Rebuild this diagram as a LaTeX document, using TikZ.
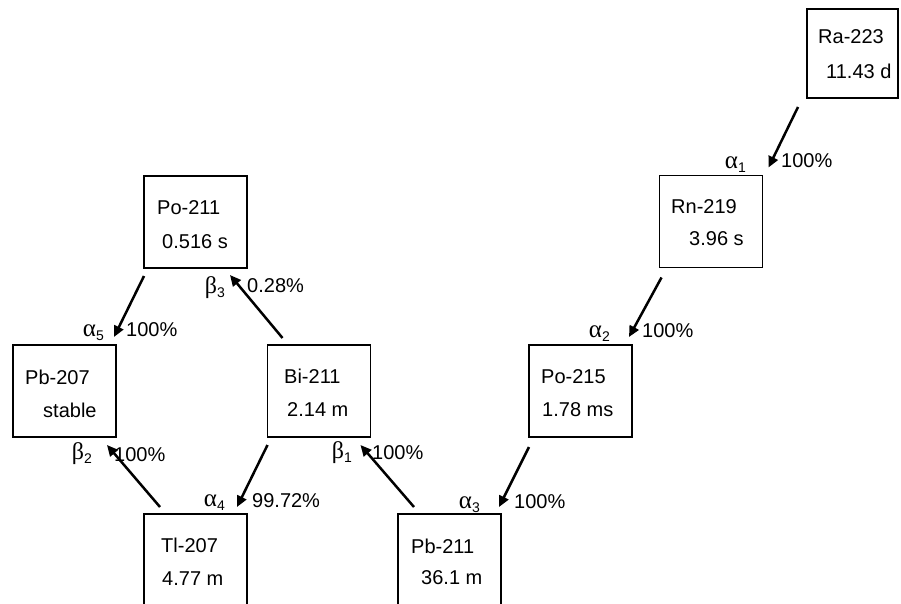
\documentclass[tikz,border=0pt]{standalone}
\usepackage{fontspec}
\setmainfont{Liberation Sans}
\newfontfamily\grk{Liberation Serif}
\usetikzlibrary{arrows.meta}
\tikzset{
  box/.style={draw, line width=1.4pt, minimum width=103pt, minimum height=92pt, inner sep=0pt, outer sep=0pt},
  txt/.style={inner sep=0pt, anchor=west, font=\fontsize{20}{24}\selectfont},
  pct/.style={inner sep=0pt, anchor=west, font=\fontsize{20}{24}\selectfont},
  gl/.style={inner sep=0pt, anchor=east, font=\fontsize{20}{24}\selectfont},
  arr/.style={line width=2.5pt, -{Triangle[length=11pt,width=10pt]}}
}
\newcommand{\gsub}[1]{\raisebox{-4pt}{\fontsize{14}{16}\selectfont #1}}
\newcommand{\al}[1]{{\grk\fontsize{25}{28}\selectfont α}\gsub{#1}}
\newcommand{\be}[1]{{\grk\fontsize{24}{28}\selectfont β}\gsub{#1}}
\begin{document}
\begin{tikzpicture}[x=1pt,y=-1pt]
\useasboundingbox (0,0) rectangle (901,604);
% boxes
\node[box, minimum width=91pt, minimum height=89pt] (ra) at (852.5,53.5) {};
\node[box] (rn) at (711,221.5) {};
\node[box] (po211) at (195.5,222) {};
\node[box] (pb207) at (64.5,391) {};
\node[box] (bi211) at (319,391) {};
\node[box] (po215) at (580.5,391) {};
\node[box] (tl207) at (195.5,560) {};
\node[box] (pb211) at (449.5,560) {};
% texts
\node[txt] (ra1) at (818,37) {Ra-223};
\node[txt] (ra2) at (826,71) {11.43 d};
\node[txt] (rn1) at (671,207) {Rn-219};
\node[txt] (rn2) at (689,239) {3.96 s};
\node[txt] (po2111) at (157,208) {Po-211};
\node[txt] (po2112) at (162,242) {0.516 s};
\node[txt] (pb2071) at (25,377) {Pb-207};
\node[txt] (pb2072) at (43,410) {stable};
\node[txt] (bi2111) at (284,376) {Bi-211};
\node[txt] (bi2112) at (287,410) {2.14 m};
\node[txt] (po2151) at (541,377) {Po-215};
\node[txt] (po2152) at (542,410) {1.78 ms};
\node[txt] (tl2071) at (161,545) {Tl-207};
\node[txt] (tl2072) at (162,579) {4.77 m};
\node[txt] (pb2111) at (411,546) {Pb-211};
\node[txt] (pb2112) at (421,578) {36.1 m};
% arrows
\draw[arr] ([shift={(-9,9)}]ra.south west) -- ([shift={(6,-8)}]rn.north east);
\draw[arr] ([shift={(2,10)}]rn.south west) -- ([shift={(-3,-8)}]po215.north east);
\draw[arr] ([shift={(0,10)}]po215.south west) -- ([shift={(-2,-7)}]pb211.north east);
\draw[arr] ([shift={(16,-7)}]pb211.north west) -- ([shift={(-10,8)}]bi211.south east);
\draw[arr] ([shift={(0,8)}]bi211.south west) -- ([shift={(-10,-7)}]tl207.north east);
\draw[arr] ([shift={(16,-7)}]tl207.north west) -- ([shift={(-9,8)}]pb207.south east);
\draw[arr] ([shift={(15,-7)}]bi211.north west) -- ([shift={(-17,7)}]po211.south east);
\draw[arr] ([shift={(0,8)}]po211.south west) -- ([shift={(-2,-8)}]pb207.north east);
% labels
\node[gl] (la1) at (746,165) {\al{1}};
\node[pct] (p1) at (781,161) {100\%};
\node[gl] (la2) at (610,334) {\al{2}};
\node[pct] (p2) at (642,331) {100\%};
\node[gl] (la3) at (480,505) {\al{3}};
\node[pct] (p3) at (514,502) {100\%};
\node[gl] (lb1) at (352,453) {\be{1}};
\node[pct] (p4) at (372,453) {100\%};
\node[gl] (la4) at (225,503) {\al{4}};
\node[pct] (p5) at (252,501) {99.72\%};
\node[gl] (lb2) at (92,454) {\be{2}};
\node[pct] (p6) at (114,455) {100\%};
\node[gl] (lb3) at (225,288) {\be{3}};
\node[pct] (p7) at (247,286) {0.28\%};
\node[gl] (la5) at (104,333) {\al{5}};
\node[pct] (p8) at (126,330) {100\%};
\end{tikzpicture}
\end{document}
